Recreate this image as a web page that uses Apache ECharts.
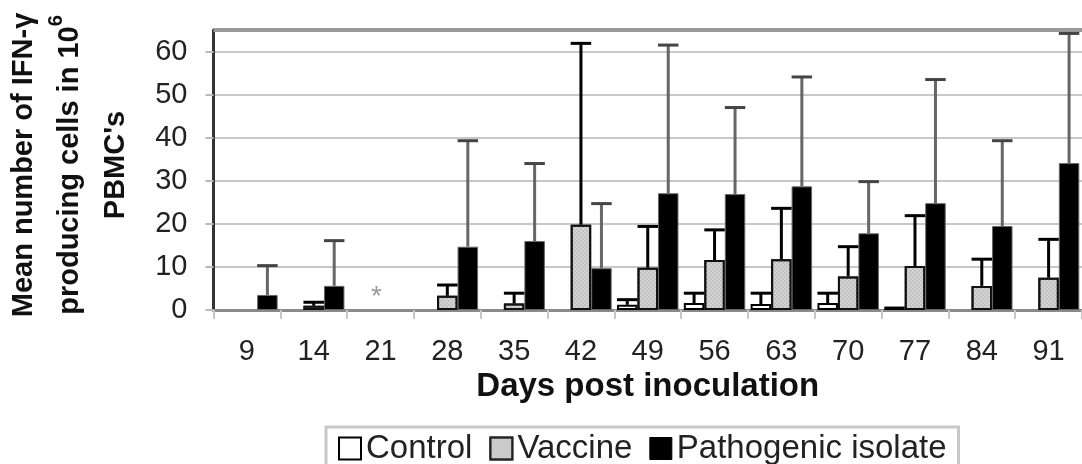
<!DOCTYPE html>
<html><head><meta charset="utf-8">
<script src="https://cdn.jsdelivr.net/npm/echarts@6/dist/echarts.min.js"></script>
<style>html,body{margin:0;padding:0;background:#fff}#c{width:1082px;height:464px}</style>
</head><body><div id="c"></div>
<script>
// ---- data ----
const categories = ['9','14','21','28','35','42','49','56','63','70','77','84','91'];
const control       = [0, 0, 0, 0, 0, 0, 1.2, 1.6, 1.4, 1.6, 0.8, 0, 0];
const controlErr    = [null, null, null, null, null, null, 2.4, 3.9, 3.9, 3.9, null, null, null];
const vaccine       = [0, 1.0, 0, 3.3, 1.5, 19.8, 9.8, 11.6, 11.8, 7.8, 10.2, 5.6, 7.5];
const vaccineErr    = [null, 1.8, null, 5.8, 3.9, 61.9, 19.4, 18.6, 23.6, 14.7, 21.9, 11.8, 16.4];
const pathogenic    = [3.5, 5.6, 0, 14.7, 16.0, 9.7, 27.1, 26.9, 28.7, 17.8, 24.8, 19.5, 34.1];
const pathogenicErr = [10.3, 16.1, null, 39.3, 34.0, 24.7, 61.5, 47.0, 54.1, 29.8, 53.5, 39.3, 64.2];
const seriesNames = ['Control', 'Vaccine', 'Pathogenic isolate'];
const yTicks = { min: 0, max: 65, interval: 10 };
const noteCategory = '21', noteText = '*', noteValue = 2.9;

const FONT = '"Liberation Sans", Arial, sans-serif';
const BAR_FRAC = 0.92 / 3;

// zero-height bars are not drawn in the reference (only the axis shows)
function barData(vals) { return vals.map(v => (v === 0 ? '-' : v)); }

function errSeries(vals, errs, idx, stemColor, capColor) {
  const data = [];
  errs.forEach((e, i) => { if (e != null) data.push([i, e, vals[i]]); });
  return {
    type: 'custom', silent: true, z: 5, data: data,
    encode: { x: 0, y: 1 },
    renderItem: function (params, api) {
      const i = api.value(0), top = api.value(1), base = api.value(2);
      const pTop = api.coord([i, top]);
      const pBase = api.coord([i, base]);
      const band = api.size([1, 0])[0];
      const bw = band * BAR_FRAC;
      const x = pTop[0] + (idx - 1) * bw;
      const half = bw / 2;
      return { type: 'group', children: [
        { type: 'line', shape: { x1: x, y1: pBase[1], x2: x, y2: pTop[1] },
          style: { stroke: stemColor, lineWidth: 3 } },
        { type: 'line', shape: { x1: x - half, y1: pTop[1], x2: x + half, y2: pTop[1] },
          style: { stroke: capColor, lineWidth: 3 } }
      ]};
    }
  };
}

const vaccineDecal = {
  symbol: 'rect', symbolSize: 1,
  dashArrayX: [[2, 2], [0, 2, 2, 0]], dashArrayY: [2, 0],
  color: 'rgba(255,255,255,0.28)'
};

const chart = echarts.init(document.getElementById('c'), null, { renderer: 'canvas' });
chart.setOption({
  animation: false,
  backgroundColor: '#fff',
  grid: { left: 213.5, right: -7, top: 30, bottom: 154, containLabel: false },
  legend: {
    data: [
      { name: seriesNames[0], itemStyle: { color: '#fff', borderColor: '#000', borderWidth: 2 } },
      { name: seriesNames[1], itemStyle: { color: '#c2c2c2', borderColor: '#222', borderWidth: 2 } },
      { name: seriesNames[2], itemStyle: { color: '#000', borderColor: '#000', borderWidth: 1 } }
    ],
    left: 326, top: 427, orient: 'horizontal', icon: 'rect',
    padding: [5, 12, 10, 12], itemGap: 17, itemWidth: 22, itemHeight: 22,
    borderColor: '#c8c8c8', borderWidth: 3,
    textStyle: { fontSize: 33, color: '#222', fontFamily: FONT }
  },
  xAxis: {
    type: 'category', data: categories,
    axisLine: { lineStyle: { color: '#8a8a8a', width: 3 } },
    axisTick: { show: true, length: 9, lineStyle: { color: '#c8c8c8', width: 2 } },
    axisLabel: { interval: 0, fontSize: 29, color: '#222', margin: 27, fontFamily: FONT },
    name: 'Days post inoculation', nameLocation: 'middle', nameGap: 53,
    nameTextStyle: { fontSize: 33, fontWeight: 'bold', color: '#111', fontFamily: FONT }
  },
  yAxis: {
    type: 'value', min: yTicks.min, max: yTicks.max, interval: yTicks.interval,
    axisLine: { show: true, lineStyle: { color: '#333', width: 3 } },
    axisTick: { show: true, length: 8, lineStyle: { color: '#bbb', width: 2 } },
    axisLabel: { fontSize: 29, color: '#222', margin: 26, fontFamily: FONT, showMaxLabel: false },
    splitLine: { show: true, lineStyle: { color: '#c8c8c8', width: 2 } }
  },
  graphic: [{
    type: 'text', x: 69.5, y: 165, rotation: Math.PI / 2, silent: true,
    style: {
      text: 'Mean number of IFN-γ\nproducing cells in 10{sup|6}\nPBMC\'s',
      fontSize: 29, fontWeight: 'bold', fontFamily: FONT, fill: '#111',
      align: 'center', verticalAlign: 'middle', lineHeight: 46,
      rich: { sup: { fontSize: 20, fontWeight: 'bold', fontFamily: FONT, fill: '#111', verticalAlign: 'top' } }
    }
  }],
  series: [
    {
      name: seriesNames[0], type: 'bar', data: barData(control), barGap: '0%', barCategoryGap: '8%',
      itemStyle: { color: '#fff', borderColor: '#000', borderWidth: 2 },
      markLine: {
        silent: true, symbol: 'none', label: { show: false },
        lineStyle: { color: '#9a9a9a', width: 4, type: 'solid' },
        data: [{ yAxis: yTicks.max }]
      }
    },
    {
      name: seriesNames[1], type: 'bar', data: barData(vaccine), barGap: '0%', barCategoryGap: '8%',
      itemStyle: { color: '#c2c2c2', borderColor: '#111', borderWidth: 2, decal: vaccineDecal },
      markPoint: {
        symbol: 'circle', symbolSize: 1, itemStyle: { color: 'rgba(0,0,0,0)' },
        label: { show: true, position: 'inside', formatter: noteText, fontSize: 28, color: '#999', fontFamily: FONT, offset: [-4, 0] },
        data: [{ coord: [noteCategory, noteValue] }]
      }
    },
    {
      name: seriesNames[2], type: 'bar', data: barData(pathogenic), barGap: '0%', barCategoryGap: '8%',
      itemStyle: { color: '#000', borderColor: '#666', borderWidth: 1 }
    },
    errSeries(control, controlErr, 0, '#000', '#000'),
    errSeries(vaccine, vaccineErr, 1, '#000', '#000'),
    errSeries(pathogenic, pathogenicErr, 2, '#666', '#444')
  ]
});
</script></body></html>
